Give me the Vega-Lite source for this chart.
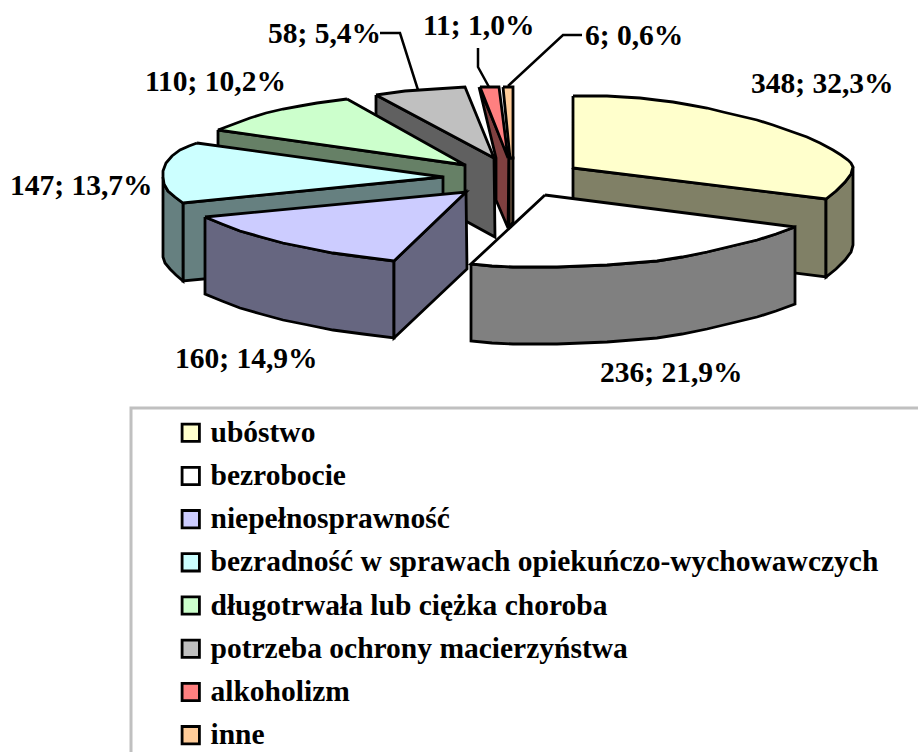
{
"$schema":"https://vega.github.io/schema/vega-lite/v6.json",
"width":918,"height":752,"padding":0,"autosize":{"type":"none"},
"background":"white",
"config":{"view":{"stroke":null},"text":{"font":"Liberation Serif"}},
"datasets":{
"sides":[
{"k":"potrzeba ochrony macierzyństwa","p":"g1","x":376,"y":95},{"k":"potrzeba ochrony macierzyństwa","p":"g1","x":494,"y":158},{"k":"potrzeba ochrony macierzyństwa","p":"g1","x":495,"y":237},{"k":"potrzeba ochrony macierzyństwa","p":"g1","x":376,"y":172},{"k":"potrzeba ochrony macierzyństwa","p":"g1","x":376,"y":95},
{"k":"długotrwała lub ciężka choroba","p":"n1","x":218,"y":130},{"k":"długotrwała lub ciężka choroba","p":"n1","x":465,"y":165},{"k":"długotrwała lub ciężka choroba","p":"n1","x":465,"y":240},{"k":"długotrwała lub ciężka choroba","p":"n1","x":218,"y":205},{"k":"długotrwała lub ciężka choroba","p":"n1","x":218,"y":130},
{"k":"bezradność w sprawach opiekuńczo-wychowawczych","p":"c1","x":183,"y":203},{"k":"bezradność w sprawach opiekuńczo-wychowawczych","p":"c1","x":443,"y":177},{"k":"bezradność w sprawach opiekuńczo-wychowawczych","p":"c1","x":443,"y":256},{"k":"bezradność w sprawach opiekuńczo-wychowawczych","p":"c1","x":183,"y":281},{"k":"bezradność w sprawach opiekuńczo-wychowawczych","p":"c1","x":183,"y":203},
{"k":"bezradność w sprawach opiekuńczo-wychowawczych","p":"c2","x":163,"y":177},{"k":"bezradność w sprawach opiekuńczo-wychowawczych","p":"c2","x":164,"y":184},{"k":"bezradność w sprawach opiekuńczo-wychowawczych","p":"c2","x":168,"y":191},{"k":"bezradność w sprawach opiekuńczo-wychowawczych","p":"c2","x":175,"y":197},{"k":"bezradność w sprawach opiekuńczo-wychowawczych","p":"c2","x":183,"y":203},{"k":"bezradność w sprawach opiekuńczo-wychowawczych","p":"c2","x":183,"y":281},{"k":"bezradność w sprawach opiekuńczo-wychowawczych","p":"c2","x":176,"y":275},{"k":"bezradność w sprawach opiekuńczo-wychowawczych","p":"c2","x":170,"y":269},{"k":"bezradność w sprawach opiekuńczo-wychowawczych","p":"c2","x":165,"y":263},{"k":"bezradność w sprawach opiekuńczo-wychowawczych","p":"c2","x":163,"y":257},{"k":"bezradność w sprawach opiekuńczo-wychowawczych","p":"c2","x":163,"y":177},
{"k":"niepełnosprawność","p":"b1","x":205,"y":217},{"k":"niepełnosprawność","p":"b1","x":222,"y":224},{"k":"niepełnosprawność","p":"b1","x":240,"y":231},{"k":"niepełnosprawność","p":"b1","x":261,"y":237},{"k":"niepełnosprawność","p":"b1","x":283,"y":243},{"k":"niepełnosprawność","p":"b1","x":308,"y":248},{"k":"niepełnosprawność","p":"b1","x":333,"y":253},{"k":"niepełnosprawność","p":"b1","x":363,"y":257},{"k":"niepełnosprawność","p":"b1","x":394,"y":261},{"k":"niepełnosprawność","p":"b1","x":394,"y":338},{"k":"niepełnosprawność","p":"b1","x":363,"y":334},{"k":"niepełnosprawność","p":"b1","x":333,"y":330},{"k":"niepełnosprawność","p":"b1","x":308,"y":325},{"k":"niepełnosprawność","p":"b1","x":283,"y":320},{"k":"niepełnosprawność","p":"b1","x":261,"y":314},{"k":"niepełnosprawność","p":"b1","x":240,"y":308},{"k":"niepełnosprawność","p":"b1","x":222,"y":301},{"k":"niepełnosprawność","p":"b1","x":205,"y":294},{"k":"niepełnosprawność","p":"b1","x":205,"y":217},
{"k":"niepełnosprawność","p":"b2","x":394,"y":261},{"k":"niepełnosprawność","p":"b2","x":466,"y":192},{"k":"niepełnosprawność","p":"b2","x":467,"y":269},{"k":"niepełnosprawność","p":"b2","x":394,"y":338},{"k":"niepełnosprawność","p":"b2","x":394,"y":261},
{"k":"alkoholizm","p":"r1","x":479,"y":87},{"k":"alkoholizm","p":"r1","x":490,"y":133},{"k":"alkoholizm","p":"r1","x":496,"y":158},{"k":"alkoholizm","p":"r1","x":496,"y":200},{"k":"alkoholizm","p":"r1","x":508,"y":228},{"k":"alkoholizm","p":"r1","x":509,"y":158},{"k":"alkoholizm","p":"r1","x":479,"y":87},
{"k":"inne","p":"o1","x":509,"y":158},{"k":"inne","p":"o1","x":513,"y":158},{"k":"inne","p":"o1","x":513,"y":222},{"k":"inne","p":"o1","x":509,"y":228},{"k":"inne","p":"o1","x":509,"y":158},
{"k":"ubóstwo","p":"y1","x":573,"y":168},{"k":"ubóstwo","p":"y1","x":826,"y":199},{"k":"ubóstwo","p":"y1","x":826,"y":277},{"k":"ubóstwo","p":"y1","x":573,"y":245},{"k":"ubóstwo","p":"y1","x":573,"y":168},
{"k":"ubóstwo","p":"y2","x":826,"y":199},{"k":"ubóstwo","p":"y2","x":836,"y":191},{"k":"ubóstwo","p":"y2","x":845,"y":182},{"k":"ubóstwo","p":"y2","x":851,"y":174},{"k":"ubóstwo","p":"y2","x":853,"y":167},{"k":"ubóstwo","p":"y2","x":853,"y":245},{"k":"ubóstwo","p":"y2","x":851,"y":252},{"k":"ubóstwo","p":"y2","x":845,"y":260},{"k":"ubóstwo","p":"y2","x":836,"y":269},{"k":"ubóstwo","p":"y2","x":826,"y":277},{"k":"ubóstwo","p":"y2","x":826,"y":199},
{"k":"bezrobocie","p":"w1","x":471,"y":264},{"k":"bezrobocie","p":"w1","x":492,"y":266},{"k":"bezrobocie","p":"w1","x":513,"y":267},{"k":"bezrobocie","p":"w1","x":535,"y":267},{"k":"bezrobocie","p":"w1","x":557,"y":267},{"k":"bezrobocie","p":"w1","x":582,"y":266},{"k":"bezrobocie","p":"w1","x":607,"y":265},{"k":"bezrobocie","p":"w1","x":632,"y":263},{"k":"bezrobocie","p":"w1","x":657,"y":261},{"k":"bezrobocie","p":"w1","x":682,"y":257},{"k":"bezrobocie","p":"w1","x":707,"y":252},{"k":"bezrobocie","p":"w1","x":732,"y":246},{"k":"bezrobocie","p":"w1","x":757,"y":240},{"k":"bezrobocie","p":"w1","x":776,"y":234},{"k":"bezrobocie","p":"w1","x":795,"y":227},{"k":"bezrobocie","p":"w1","x":795,"y":304},{"k":"bezrobocie","p":"w1","x":776,"y":311},{"k":"bezrobocie","p":"w1","x":757,"y":317},{"k":"bezrobocie","p":"w1","x":732,"y":323},{"k":"bezrobocie","p":"w1","x":707,"y":329},{"k":"bezrobocie","p":"w1","x":682,"y":334},{"k":"bezrobocie","p":"w1","x":657,"y":338},{"k":"bezrobocie","p":"w1","x":632,"y":340},{"k":"bezrobocie","p":"w1","x":607,"y":342},{"k":"bezrobocie","p":"w1","x":582,"y":343},{"k":"bezrobocie","p":"w1","x":557,"y":344},{"k":"bezrobocie","p":"w1","x":535,"y":344},{"k":"bezrobocie","p":"w1","x":513,"y":344},{"k":"bezrobocie","p":"w1","x":492,"y":343},{"k":"bezrobocie","p":"w1","x":471,"y":341},{"k":"bezrobocie","p":"w1","x":471,"y":264}
],
"tops":[
{"k":"ubóstwo","x":573,"y":96},{"k":"ubóstwo","x":590,"y":96},{"k":"ubóstwo","x":607,"y":96},{"k":"ubóstwo","x":623,"y":97},{"k":"ubóstwo","x":640,"y":98},{"k":"ubóstwo","x":656,"y":100},{"k":"ubóstwo","x":673,"y":102},{"k":"ubóstwo","x":690,"y":105},{"k":"ubóstwo","x":707,"y":108},{"k":"ubóstwo","x":723,"y":112},{"k":"ubóstwo","x":740,"y":116},{"k":"ubóstwo","x":757,"y":120},{"k":"ubóstwo","x":773,"y":125},{"k":"ubóstwo","x":790,"y":131},{"k":"ubóstwo","x":807,"y":137},{"k":"ubóstwo","x":820,"y":143},{"k":"ubóstwo","x":833,"y":150},{"k":"ubóstwo","x":841,"y":155},{"k":"ubóstwo","x":848,"y":160},{"k":"ubóstwo","x":851,"y":163},{"k":"ubóstwo","x":853,"y":167},{"k":"ubóstwo","x":851,"y":174},{"k":"ubóstwo","x":845,"y":182},{"k":"ubóstwo","x":836,"y":191},{"k":"ubóstwo","x":826,"y":199},{"k":"ubóstwo","x":573,"y":168},{"k":"ubóstwo","x":573,"y":96},
{"k":"bezrobocie","x":545,"y":195},{"k":"bezrobocie","x":795,"y":227},{"k":"bezrobocie","x":776,"y":234},{"k":"bezrobocie","x":757,"y":240},{"k":"bezrobocie","x":732,"y":246},{"k":"bezrobocie","x":707,"y":252},{"k":"bezrobocie","x":682,"y":257},{"k":"bezrobocie","x":657,"y":261},{"k":"bezrobocie","x":632,"y":263},{"k":"bezrobocie","x":607,"y":265},{"k":"bezrobocie","x":582,"y":266},{"k":"bezrobocie","x":557,"y":267},{"k":"bezrobocie","x":535,"y":267},{"k":"bezrobocie","x":513,"y":267},{"k":"bezrobocie","x":492,"y":266},{"k":"bezrobocie","x":471,"y":264},{"k":"bezrobocie","x":545,"y":195},
{"k":"niepełnosprawność","x":205,"y":217},{"k":"niepełnosprawność","x":466,"y":192},{"k":"niepełnosprawność","x":394,"y":261},{"k":"niepełnosprawność","x":363,"y":257},{"k":"niepełnosprawność","x":333,"y":253},{"k":"niepełnosprawność","x":308,"y":248},{"k":"niepełnosprawność","x":283,"y":243},{"k":"niepełnosprawność","x":261,"y":237},{"k":"niepełnosprawność","x":240,"y":231},{"k":"niepełnosprawność","x":222,"y":224},{"k":"niepełnosprawność","x":205,"y":217},
{"k":"bezradność w sprawach opiekuńczo-wychowawczych","x":197,"y":143},{"k":"bezradność w sprawach opiekuńczo-wychowawczych","x":443,"y":177},{"k":"bezradność w sprawach opiekuńczo-wychowawczych","x":183,"y":203},{"k":"bezradność w sprawach opiekuńczo-wychowawczych","x":175,"y":197},{"k":"bezradność w sprawach opiekuńczo-wychowawczych","x":168,"y":191},{"k":"bezradność w sprawach opiekuńczo-wychowawczych","x":164,"y":184},{"k":"bezradność w sprawach opiekuńczo-wychowawczych","x":163,"y":177},{"k":"bezradność w sprawach opiekuńczo-wychowawczych","x":163,"y":171},{"k":"bezradność w sprawach opiekuńczo-wychowawczych","x":166,"y":163},{"k":"bezradność w sprawach opiekuńczo-wychowawczych","x":172,"y":156},{"k":"bezradność w sprawach opiekuńczo-wychowawczych","x":180,"y":150},{"k":"bezradność w sprawach opiekuńczo-wychowawczych","x":189,"y":146},{"k":"bezradność w sprawach opiekuńczo-wychowawczych","x":197,"y":143},
{"k":"długotrwała lub ciężka choroba","x":347,"y":99},{"k":"długotrwała lub ciężka choroba","x":465,"y":165},{"k":"długotrwała lub ciężka choroba","x":218,"y":130},{"k":"długotrwała lub ciężka choroba","x":234,"y":124},{"k":"długotrwała lub ciężka choroba","x":250,"y":118},{"k":"długotrwała lub ciężka choroba","x":266,"y":113},{"k":"długotrwała lub ciężka choroba","x":283,"y":109},{"k":"długotrwała lub ciężka choroba","x":300,"y":106},{"k":"długotrwała lub ciężka choroba","x":317,"y":103},{"k":"długotrwała lub ciężka choroba","x":332,"y":101},{"k":"długotrwała lub ciężka choroba","x":347,"y":99},
{"k":"potrzeba ochrony macierzyństwa","x":376,"y":95},{"k":"potrzeba ochrony macierzyństwa","x":405,"y":91},{"k":"potrzeba ochrony macierzyństwa","x":435,"y":89},{"k":"potrzeba ochrony macierzyństwa","x":465,"y":87},{"k":"potrzeba ochrony macierzyństwa","x":494,"y":158},{"k":"potrzeba ochrony macierzyństwa","x":376,"y":95},
{"k":"alkoholizm","x":480,"y":87},{"k":"alkoholizm","x":499,"y":87},{"k":"alkoholizm","x":508,"y":158},{"k":"alkoholizm","x":480,"y":87},
{"k":"inne","x":503,"y":87},{"k":"inne","x":513,"y":87},{"k":"inne","x":513,"y":158},{"k":"inne","x":510,"y":158},{"k":"inne","x":503,"y":87}
],
"leaders":[
{"id":"58","x":380,"y":33},{"id":"58","x":400,"y":33},{"id":"58","x":418,"y":90},
{"id":"11","x":478,"y":48},{"id":"11","x":478,"y":67},{"id":"11","x":489,"y":87},
{"id":"6","x":582,"y":35},{"id":"6","x":563,"y":35},{"id":"6","x":508,"y":86}
],
"frame":[{"x":131,"y":752},{"x":131,"y":408},{"x":918,"y":408}],
"labels":[
{"t":"348; 32,3%","x":751,"y":93},
{"t":"236; 21,9%","x":600,"y":382},
{"t":"160; 14,9%","x":175,"y":368},
{"t":"147; 13,7%","x":10,"y":195},
{"t":"110; 10,2%","x":145,"y":91},
{"t":"58; 5,4%","x":268,"y":43},
{"t":"11; 1,0%","x":423,"y":35},
{"t":"6; 0,6%","x":585,"y":45}
]
},
"encoding":{
"x":{"field":"x","type":"quantitative","scale":{"domain":[0,918],"nice":false,"zero":false},"axis":null},
"y":{"field":"y","type":"quantitative","scale":{"domain":[752,0],"nice":false,"zero":false},"axis":null}
},
"layer":[
{"data":{"name":"frame"},"mark":{"type":"line","stroke":"#c0c0c0","strokeWidth":3,"strokeCap":"butt","strokeJoin":"miter"},"encoding":{"order":{"value":null}}},
{"data":{"name":"sides"},"mark":{"type":"line","stroke":"black","strokeWidth":2.8,"strokeJoin":"miter"},
"encoding":{"order":{"value":null},"detail":{"field":"p"},
"fill":{"field":"k","type":"nominal","legend":null,"scale":{"domain":["ubóstwo","bezrobocie","niepełnosprawność","bezradność w sprawach opiekuńczo-wychowawczych","długotrwała lub ciężka choroba","potrzeba ochrony macierzyństwa","alkoholizm","inne"],"range":["#808066","#808080","#666680","#668080","#668066","#606060","#804040","#80664D"]}}}},
{"data":{"name":"tops"},"mark":{"type":"line","stroke":"black","strokeWidth":2.8,"strokeJoin":"miter"},
"encoding":{"order":{"value":null},
"fill":{"field":"k","type":"nominal","scale":{"domain":["ubóstwo","bezrobocie","niepełnosprawność","bezradność w sprawach opiekuńczo-wychowawczych","długotrwała lub ciężka choroba","potrzeba ochrony macierzyństwa","alkoholizm","inne"],"range":["#FFFFCC","#FFFFFF","#CCCCFF","#CCFFFF","#CCFFCC","#C0C0C0","#FF8080","#FFCC99"]},
"legend":{"orient":"none","legendX":176,"legendY":418,"title":null,"symbolType":"square","symbolSize":300,"symbolStrokeColor":"black","symbolStrokeWidth":2.8,"symbolOpacity":1,"labelFont":"Liberation Serif","labelFontWeight":"bold","labelFontSize":29.5,"labelColor":"black","labelLimit":800,"labelOffset":5,"rowPadding":12.2,"padding":0}}}},
{"data":{"name":"leaders"},"mark":{"type":"line","stroke":"black","strokeWidth":2.5,"strokeJoin":"miter"},"encoding":{"order":{"value":null},"detail":{"field":"id"}}},
{"data":{"name":"labels"},"mark":{"type":"text","align":"left","baseline":"alphabetic","font":"Liberation Serif","fontWeight":"bold","fontSize":29.5,"color":"black"},"encoding":{"text":{"field":"t"}}}
],
"resolve":{"scale":{"fill":"independent"}}
}
